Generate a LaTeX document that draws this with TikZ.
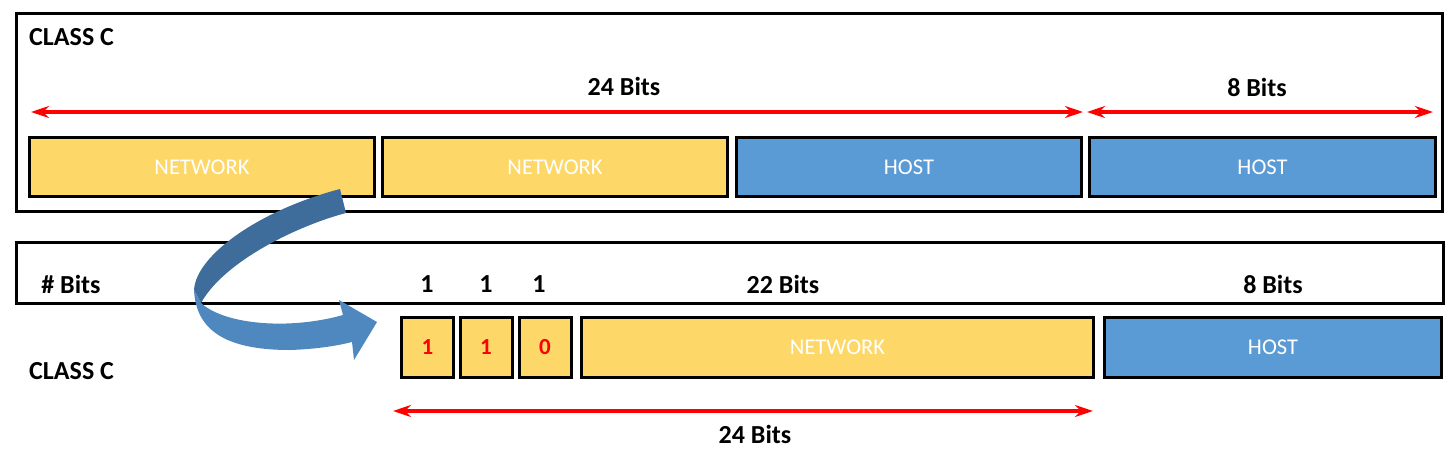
\documentclass[tikz,border=0pt]{standalone}
\usepackage{fontspec}
\setmainfont{Carlito}
\usetikzlibrary{arrows.meta}
\definecolor{netyellow}{HTML}{FDD868}
\definecolor{hostblue}{HTML}{5B9BD5}
\definecolor{arrowdark}{HTML}{3E6D9C}
\definecolor{arrowlight}{HTML}{4F88BF}
\tikzset{
  frame/.style={draw=black, line width=3pt},
  netbox/.style={draw=black, line width=3pt, fill=netyellow, text=white,
    minimum height=59pt, inner sep=0pt, font=\fontsize{22.5}{26}\selectfont},
  hostbox/.style={netbox, fill=hostblue},
  bitbox/.style={netbox, minimum width=52pt, minimum height=60pt, text=red,
    font=\fontsize{23}{26}\selectfont\bfseries},
  lbl/.style={font=\fontsize{26}{30}\selectfont\bfseries, inner sep=0pt},
  span/.style={draw=red, line width=3.5pt,
    {Stealth[length=18pt,width=12pt]}-{Stealth[length=18pt,width=12pt]}}
}
\begin{document}
\begin{tikzpicture}[x=1pt,y=-1pt]
  \useasboundingbox (0,0) rectangle (1456,466);
  % upper frame
  \draw[frame] (16,13) rectangle (1442,211);
  \node[lbl, anchor=west] (titleA) at (29,37) {CLASS C};
  \node[lbl] (bitsA) at (624,86) {24 Bits};
  \node[lbl] (bitsB) at (1257,87) {8 Bits};
  \coordinate (spanA1) at (31,112);
  \coordinate (spanA2) at (1083,112);
  \coordinate (spanB1) at (1087,112);
  \coordinate (spanB2) at (1433,112);
  \draw[span] (spanA1) -- (spanA2);
  \draw[span] (spanB1) -- (spanB2);
  \node[netbox, minimum width=345pt] (net1) at (202,167) {NETWORK};
  \node[netbox, minimum width=345pt] (net2) at (555,167) {NETWORK};
  \node[hostbox, minimum width=345pt] (host1) at (909,167) {HOST};
  \node[hostbox, minimum width=346pt] (host2) at (1262.5,167) {HOST};
  % lower frame
  \draw[frame] (16,242) rectangle (1443,303);
  \node[lbl] (numbits) at (71,284) {\# Bits};
  \node[lbl] (one1) at (427,284) {1};
  \node[lbl] (one2) at (486,284) {1};
  \node[lbl] (one3) at (539,284) {1};
  \node[lbl] (bitsC) at (783,284) {22 Bits};
  \node[lbl] (bitsD) at (1273,284) {8 Bits};
  \node[bitbox] (bit1) at (427.5,347.5) {1};
  \node[bitbox] (bit2) at (486,347.5) {1};
  \node[bitbox] (bit3) at (545,347.5) {0};
  \node[netbox, minimum width=512pt, minimum height=60pt] (net3) at (837.5,347.5) {NETWORK};
  \node[hostbox, minimum width=337pt, minimum height=60pt] (host3) at (1273,347.5) {HOST};
  \node[lbl, anchor=west] (titleB) at (29,371) {CLASS C};
  \coordinate (spanC1) at (393,411);
  \coordinate (spanC2) at (1093,411);
  \draw[span] (spanC1) -- (spanC2);
  \node[lbl] (bitsE) at (755,434) {24 Bits};
  % curved arrow
  \fill[arrowdark] (340,189) -- (346,213) .. controls (300,225) and (225,260) .. (201,303)
    -- (194,290) .. controls (196,255) and (260,210) .. (340,189) -- cycle;
  \fill[arrowlight] (194,290) .. controls (196,330) and (225,350) .. (290,350)
    .. controls (320,349) and (340,345) .. (352,342) -- (354,360) -- (377,322)
    -- (339,300) -- (343,315) .. controls (290,330) and (225,325) .. (201,303) -- cycle;
\end{tikzpicture}
\end{document}
